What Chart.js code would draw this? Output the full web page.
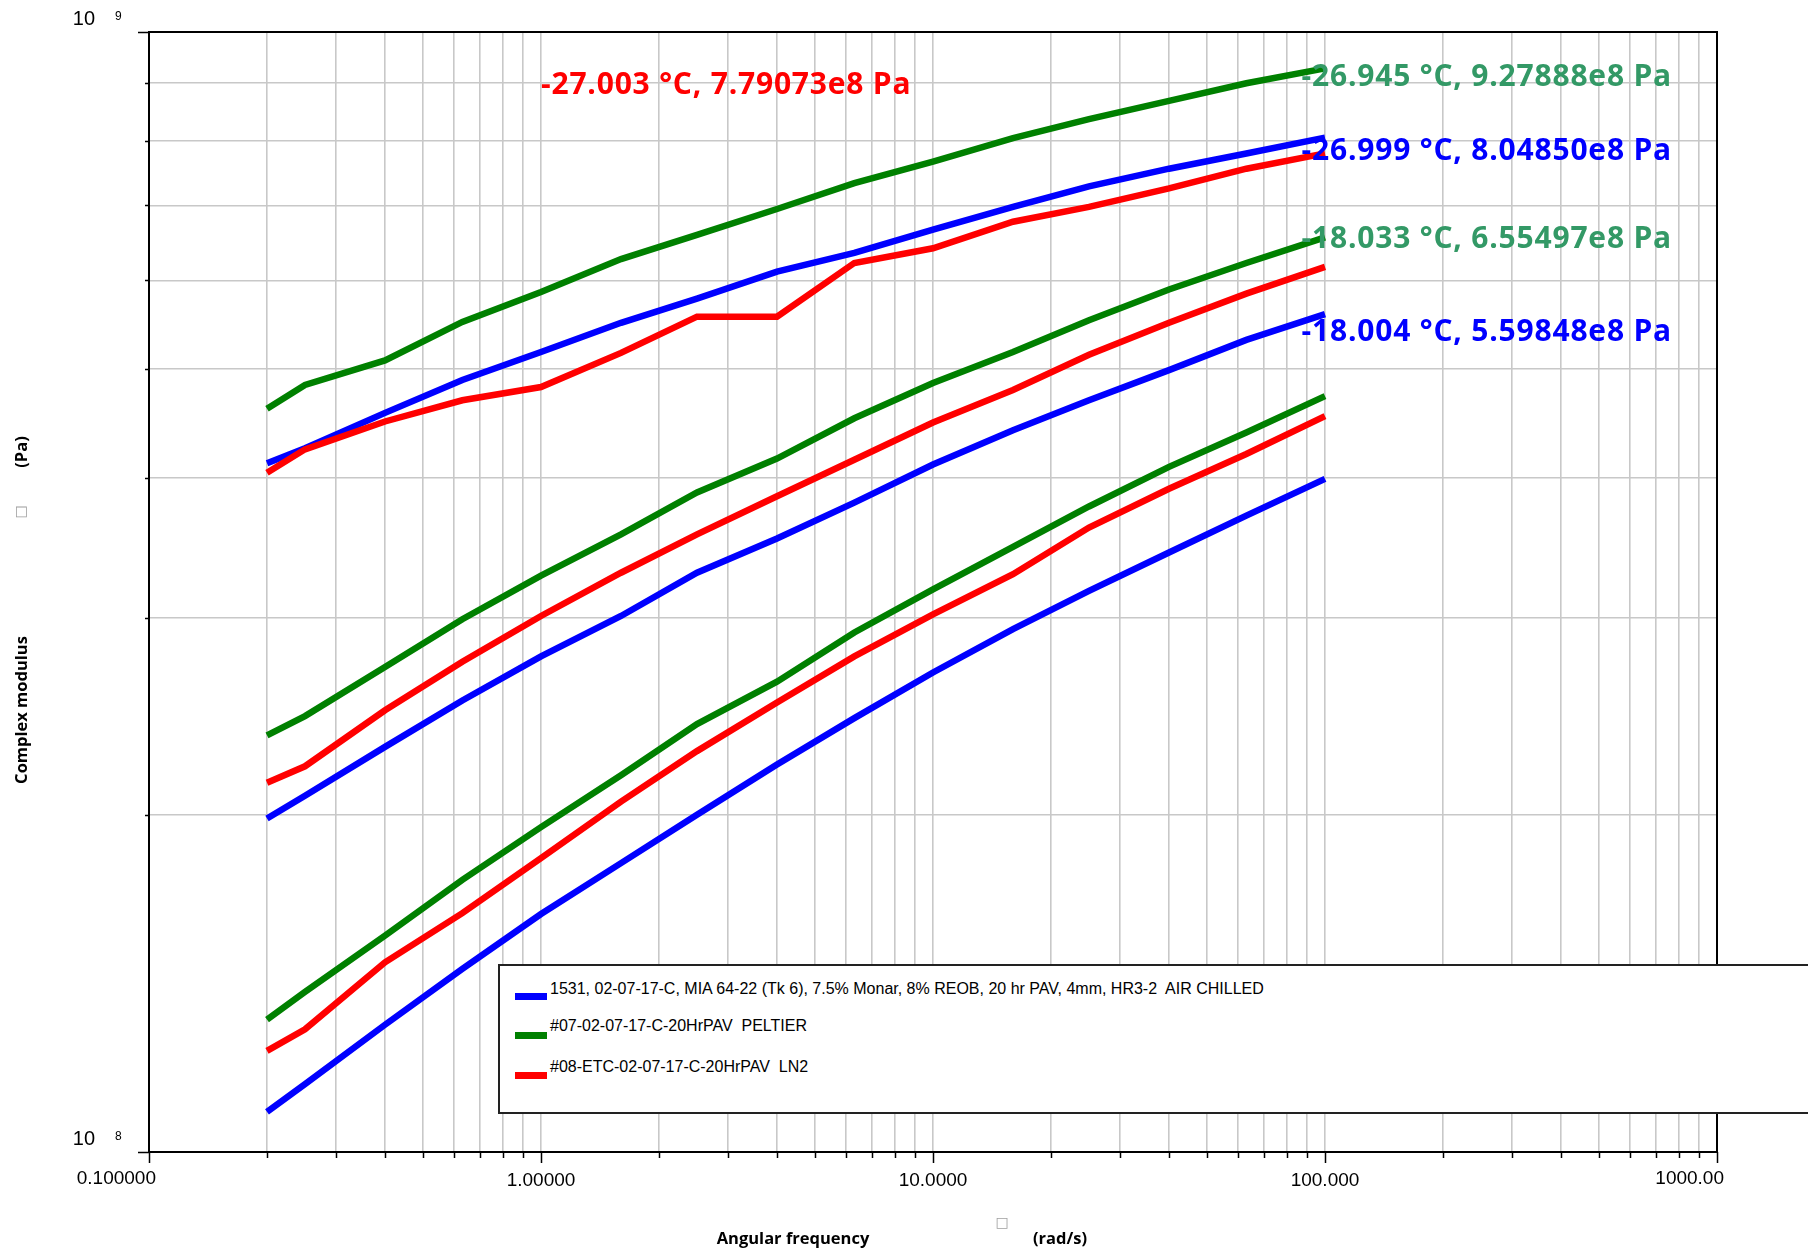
<!DOCTYPE html>
<html>
<head>
<meta charset="utf-8">
<title>Complex modulus vs angular frequency</title>
<script src="https://cdn.jsdelivr.net/npm/chart.js@4.4.1/dist/chart.umd.min.js"></script>
<style>
  html, body { margin: 0; padding: 0; background: #fff; }
  #wrap { position: relative; width: 1808px; height: 1250px; overflow: hidden; }
  #chart { position: absolute; left: 0; top: 0; }
  #legend {
    position: absolute; left: 498px; top: 964px; width: 1400px; height: 146px;
    border: 2px solid #222; background: #fff;
    font: 16px "Liberation Sans", Arial, sans-serif; color: #000;
  }
  #legend .txt { position: absolute; left: 50px; line-height: 16px; white-space: pre; }
  #legend .sw  { position: absolute; left: 15px; width: 32px; height: 7px; }
</style>
</head>
<body>
<div id="wrap">
  <canvas id="chart" width="1808" height="1250"></canvas>
  <div id="legend"></div>
</div>
<script>
// ── DATA ───────────────────────────────────────────────────
const freq = [0.2, 0.25, 0.4, 0.63, 1, 1.6, 2.5, 4, 6.3, 10, 16, 25, 40, 63, 100];

// complex modulus, Pa — three temperatures per instrument
const blueHigh  = [4.12e8, 4.25e8, 4.57e8, 4.89e8, 5.18e8, 5.50e8, 5.78e8, 6.11e8, 6.35e8, 6.66e8, 6.98e8, 7.28e8, 7.55e8, 7.79e8, 8.04850e8];
const blueMid   = [1.985e8, 2.08e8, 2.30e8, 2.53e8, 2.77e8, 3.01e8, 3.29e8, 3.53e8, 3.80e8, 4.11e8, 4.41e8, 4.69e8, 4.99e8, 5.31e8, 5.59848e8];
const blueLow   = [1.086e8, 1.15e8, 1.299e8, 1.457e8, 1.631e8, 1.811e8, 2.00e8, 2.218e8, 2.44e8, 2.68e8, 2.93e8, 3.17e8, 3.43e8, 3.70e8, 3.99e8];

const greenHigh = [4.61e8, 4.84e8, 5.09e8, 5.51e8, 5.86e8, 6.27e8, 6.59e8, 6.95e8, 7.33e8, 7.66e8, 8.04e8, 8.36e8, 8.68e8, 9.00e8, 9.27888e8];
const greenMid  = [2.355e8, 2.45e8, 2.71e8, 2.99e8, 3.27e8, 3.56e8, 3.88e8, 4.16e8, 4.52e8, 4.86e8, 5.18e8, 5.53e8, 5.89e8, 6.22e8, 6.55497e8];
const greenLow  = [1.313e8, 1.39e8, 1.56e8, 1.75e8, 1.95e8, 2.17e8, 2.41e8, 2.63e8, 2.91e8, 3.18e8, 3.47e8, 3.77e8, 4.09e8, 4.39e8, 4.73e8];

const redHigh   = [4.04e8, 4.24e8, 4.49e8, 4.69e8, 4.82e8, 5.17e8, 5.57e8, 5.57e8, 6.22e8, 6.41e8, 6.77e8, 6.98e8, 7.25e8, 7.55e8, 7.79073e8];
const redMid    = [2.136e8, 2.21e8, 2.48e8, 2.74e8, 3.01e8, 3.29e8, 3.56e8, 3.85e8, 4.15e8, 4.48e8, 4.79e8, 5.15e8, 5.50e8, 5.84e8, 6.17e8];
const redLow    = [1.231e8, 1.287e8, 1.477e8, 1.634e8, 1.83e8, 2.055e8, 2.28e8, 2.52e8, 2.77e8, 3.02e8, 3.28e8, 3.61e8, 3.91e8, 4.20e8, 4.54e8];

const legendLabels = [
  '1531, 02-07-17-C, MIA 64-22 (Tk 6), 7.5% Monar, 8% REOB, 20 hr PAV, 4mm, HR3-2  AIR CHILLED',
  '#07-02-07-17-C-20HrPAV  PELTIER',
  '#08-ETC-02-07-17-C-20HrPAV  LN2'
];

const xTickLabels = ['0.100000', '1.00000', '10.0000', '100.000', '1000.00'];
const yTickBase = '10';
const yTickExp = ['8', '9'];

const annotationTexts = [
  '-27.003 °C, 7.79073e8 Pa',
  '-26.945 °C, 9.27888e8 Pa',
  '-26.999 °C, 8.04850e8 Pa',
  '-18.033 °C, 6.55497e8 Pa',
  '-18.004 °C, 5.59848e8 Pa'
];

// ── COLOURS ────────────────────────────────────────────────
const BLUE = '#0000ff', GREEN = '#008000', RED = '#ff0000';
const GREEN_TXT = '#339966';

// ── HELPERS ────────────────────────────────────────────────
const isDecade = v => Math.abs(Math.log10(v) - Math.round(Math.log10(v))) < 1e-9;
const decadeIndex = v => Math.round(Math.log10(v)) + 1;

function points(arr) {
  return freq.map((f, i) => ({ x: f, y: arr[i] }));
}

function series(arr, color) {
  return {
    data: points(arr),
    borderColor: color,
    backgroundColor: color,
    borderWidth: 6.5,
    pointRadius: 0,
    tension: 0,
    borderCapStyle: 'butt',
    borderJoinStyle: 'miter'
  };
}

// axis tick values (1..9 per decade)
const xTickValues = [];
for (let e = -1; e < 3; e++) for (let m = 1; m < 10; m++) xTickValues.push(m * Math.pow(10, e));
xTickValues.push(1000);
const yTickValues = [];
for (let m = 1; m <= 10; m++) yTickValues.push(m * 1e8);

// ── PLUGINS ────────────────────────────────────────────────
const annotationPlugin = {
  id: 'annotations',
  afterDatasetsDraw(chart) {
    const ctx = chart.ctx;
    ctx.save();
    ctx.font = 'bold 30px "Open Sans", sans-serif';
    ctx.letterSpacing = '0.8px';
    ctx.textBaseline = 'alphabetic';
    const spots = [
      { x: 541,  y: 94,  align: 'left',  color: RED },
      { x: 1672, y: 86,  align: 'right', color: GREEN_TXT },
      { x: 1672, y: 160, align: 'right', color: BLUE },
      { x: 1672, y: 248, align: 'right', color: GREEN_TXT },
      { x: 1672, y: 341, align: 'right', color: BLUE }
    ];
    annotationTexts.forEach((t, i) => {
      const s = spots[i];
      ctx.textAlign = s.align;
      ctx.fillStyle = s.color;
      ctx.fillText(t, s.x, s.y);
    });
    ctx.restore();
  }
};

const framePlugin = {
  id: 'frame',
  afterDraw(chart) {
    const ctx = chart.ctx;
    const a = chart.chartArea;
    const xs = chart.scales.x, ys = chart.scales.y;
    ctx.save();
    ctx.strokeStyle = '#000';
    ctx.lineWidth = 2;
    ctx.strokeRect(a.left, a.top, a.right - a.left, a.bottom - a.top);

    // tick marks
    ctx.lineWidth = 1.5;
    ctx.beginPath();
    xTickValues.forEach(v => {
      const px = Math.round(xs.getPixelForValue(v)) + 0.5;
      ctx.moveTo(px, a.bottom);
      ctx.lineTo(px, a.bottom + (isDecade(v) ? 11 : 6));
    });
    yTickValues.forEach(v => {
      const py = Math.round(ys.getPixelForValue(v)) + 0.5;
      ctx.moveTo(a.left, py);
      ctx.lineTo(a.left - (isDecade(v) ? 11 : 4), py);
    });
    ctx.stroke();

    // end labels of the x axis sit to the left of their tick
    ctx.fillStyle = '#000';
    ctx.font = '19px "Liberation Sans", Arial, sans-serif';
    ctx.textAlign = 'right';
    ctx.textBaseline = 'middle';
    [xs.min, xs.max].forEach(v => {
      ctx.fillText(xTickLabels[decadeIndex(v)], xs.getPixelForValue(v) + 7, a.bottom + 27);
    });

    // exponents of the y labels
    ctx.font = '12px "Liberation Sans", Arial, sans-serif';
    ctx.textAlign = 'left';
    [1e8, 1e9].forEach((v, i) => {
      ctx.fillText(yTickExp[i], 115, ys.getPixelForValue(v) - 15);
    });

    // axis titles
    ctx.font = 'bold 16.5px "Open Sans", sans-serif';
    ctx.textAlign = 'center';
    ctx.textBaseline = 'alphabetic';
    ctx.fillText('Angular frequency', 793, 1244);
    ctx.fillText('(rad/s)', 1060, 1244);
    ctx.save();
    ctx.translate(27, 710);
    ctx.rotate(-Math.PI / 2);
    ctx.fillText('Complex modulus', 0, 0);
    ctx.restore();
    ctx.save();
    ctx.translate(27, 452);
    ctx.rotate(-Math.PI / 2);
    ctx.fillText('(Pa)', 0, 0);
    ctx.restore();

    // missing-glyph boxes of the units
    ctx.fillStyle = '#a0a0a0';
    ctx.font = '14px "DejaVu Sans", sans-serif';
    ctx.textBaseline = 'middle';
    ctx.fillText('□', 1002, 1223);
    ctx.save();
    ctx.translate(21, 512);
    ctx.rotate(-Math.PI / 2);
    ctx.fillText('□', 0, 0);
    ctx.restore();
    ctx.restore();
  }
};

// ── CHART ──────────────────────────────────────────────────
const tickFont = { family: '"Liberation Sans", Arial, sans-serif', size: 19 };

new Chart(document.getElementById('chart'), {
  type: 'line',
  data: {
    datasets: [
      series(redHigh, RED), series(redMid, RED), series(redLow, RED),
      series(greenHigh, GREEN), series(greenMid, GREEN), series(greenLow, GREEN),
      series(blueHigh, BLUE), series(blueMid, BLUE), series(blueLow, BLUE)
    ]
  },
  options: {
    responsive: false,
    animation: false,
    events: [],
    layout: { padding: { left: 0, right: 91, top: 32, bottom: 0 } },
    plugins: { legend: { display: false }, tooltip: { enabled: false } },
    scales: {
      x: {
        type: 'logarithmic',
        min: 0.1, max: 1000,
        afterBuildTicks: s => { s.ticks = xTickValues.map(v => ({ value: v })); },
        afterFit: s => { s.height = 98; s.paddingLeft = 0; s.paddingRight = 0; },
        border: { display: false },
        grid: { color: '#c8c8c8', lineWidth: 1.6, drawTicks: false },
        ticks: {
          autoSkip: false, maxRotation: 0, padding: 17,
          color: '#000', font: tickFont,
          // first and last decade labels are drawn by the frame plugin
          callback: v => (isDecade(v) && v > 0.1 && v < 1000) ? xTickLabels[decadeIndex(v)] : ''
        }
      },
      y: {
        type: 'logarithmic',
        min: 1e8, max: 1e9,
        afterBuildTicks: s => { s.ticks = yTickValues.map(v => ({ value: v })); },
        afterFit: s => { s.width = 149; s.paddingTop = 0; s.paddingBottom = 0; },
        border: { display: false },
        grid: { color: '#c8c8c8', lineWidth: 1.6, drawTicks: false },
        ticks: {
          autoSkip: false, padding: 54, labelOffset: -13,
          color: '#000', font: { family: '"Liberation Sans", Arial, sans-serif', size: 20 },
          callback: v => isDecade(v) ? yTickBase : ''
        }
      }
    }
  },
  plugins: [annotationPlugin, framePlugin]
});

// ── LEGEND ─────────────────────────────────────────────────
const legendEl = document.getElementById('legend');
const legendColors = [BLUE, GREEN, RED];
const legendTextTop = [15, 52, 93];
const legendSwatchTop = [27, 66, 106];
legendLabels.forEach((label, i) => {
  const sw = document.createElement('div');
  sw.className = 'sw';
  sw.style.top = legendSwatchTop[i] + 'px';
  sw.style.background = legendColors[i];
  legendEl.appendChild(sw);
  const t = document.createElement('div');
  t.className = 'txt';
  t.style.top = legendTextTop[i] + 'px';
  t.textContent = label;
  legendEl.appendChild(t);
});
</script>
</body>
</html>
